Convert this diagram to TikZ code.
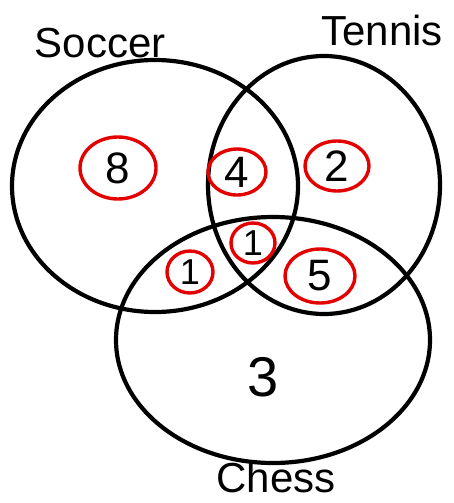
\documentclass[tikz,border=0pt]{standalone}
\usepackage{fontspec}
\setmainfont{Liberation Sans}
\usetikzlibrary{shapes.geometric}

\begin{document}
\begin{tikzpicture}[
  x=1pt, y=-1pt,
  set/.style={ellipse, draw=black, line width=4.2pt, inner sep=0pt},
  cnt/.style={ellipse, draw=red!90!black, line width=3.4pt, inner sep=0pt,
              font=\fontsize{44}{44}\selectfont},
  setname/.style={font=\fontsize{42}{42}\selectfont, anchor=base}
]
  \useasboundingbox (0,0) rectangle (453,503);

  % The three sets
  \node[set, minimum width=286pt, minimum height=252pt] (soccer) at (155,186) {};
  \node[set, minimum width=232pt, minimum height=258pt] (tennis) at (324,185) {};
  \node[set, minimum width=314pt, minimum height=246pt] (chess) at (273,340) {};

  % Set names
  \node[setname] (lsoccer) at (100,58) {Soccer};
  \node[setname] (ltennis) at (382,46) {Tennis};
  \node[setname] (lchess) at (276,492) {Chess};

  % Counts
  \node[cnt, minimum width=76pt, minimum height=62pt] (n8) at (118,168) {8};
  \node[cnt, minimum width=58pt, minimum height=46pt] (n4) at (237,172) {4};
  \node[cnt, minimum width=64pt, minimum height=50pt] (n2) at (337,166) {2};
  \node[cnt, minimum width=44pt, minimum height=40pt,
        font=\fontsize{36}{36}\selectfont] (n1c) at (253,243) {1};
  \node[cnt, minimum width=46pt, minimum height=42pt,
        font=\fontsize{36}{36}\selectfont] (n1l) at (190,272) {1};
  \node[cnt, minimum width=70pt, minimum height=54pt] (n5) at (320,276) {5};
  \node[font=\fontsize{56}{56}\selectfont] (n3) at (263,377) {3};
\end{tikzpicture}
\end{document}
